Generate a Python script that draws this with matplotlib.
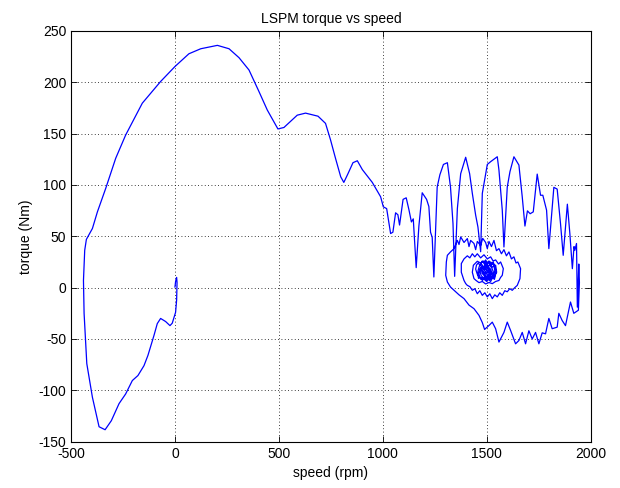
import numpy as np
import matplotlib.pyplot as plt

plt.rcParams.update({'font.size': 10, 'font.family': ['Liberation Sans', 'DejaVu Sans'],
                     'axes.unicode_minus': False})

# rotor speed (rpm) along the run-up trajectory
speed = [0, 3, 8, 10, 9, 8, 3, -13, -24, -45, -69, -85, -101, -130, -149,
         -178, -205, -237, -269, -306, -336, -365, -397, -424, -437, -440,
         -434, -426, -397, -373, -333, -285, -237, -157, -69, 0, 67, 124,
         204, 260, 308, 356, 404, 444, 495, 524, 588, 628, 688, 724, 748,
         772, 797, 812, 832, 856, 877, 901, 949, 989, 1002, 1018, 1037, 1048,
         1061, 1072, 1080, 1097, 1112, 1125, 1137, 1146, 1160, 1173, 1189,
         1210, 1221, 1229, 1237, 1245, 1261, 1274, 1291, 1310, 1325, 1337,
         1345, 1358, 1374, 1398, 1417, 1430, 1446, 1457, 1470, 1478, 1494,
         1502, 1518, 1550, 1558, 1574, 1582, 1598, 1611, 1630, 1654, 1670,
         1683, 1695, 1708, 1723, 1742, 1758, 1769, 1787, 1798, 1822, 1838,
         1854, 1867, 1887, 1899, 1911, 1919, 1923, 1931, 1935, 1942, 1945,
         1940, 1918, 1902, 1878, 1862, 1846, 1838, 1814, 1798, 1782, 1766,
         1750, 1734, 1718, 1702, 1686, 1670, 1654, 1638, 1614, 1598, 1582,
         1558, 1542, 1526, 1510, 1489, 1478, 1462, 1438, 1414, 1390, 1366,
         1350, 1325, 1310, 1302, 1305, 1310, 1325,
         1342, 1358, 1366, 1374, 1390, 1406, 1414, 1422, 1438, 1446, 1454,
         1470, 1480, 1494, 1502, 1510, 1522, 1534, 1546, 1558, 1570, 1582,
         1594, 1606, 1618, 1630, 1640, 1649, 1662, 1659, 1646, 1634, 1622,
         1610, 1598, 1586, 1574, 1562, 1550, 1538, 1526, 1514, 1502, 1490,
         1478, 1466, 1454, 1442, 1430, 1418, 1406, 1398, 1390, 1377, 1377,
         1390, 1406, 1418, 1430, 1442, 1454, 1470, 1486, 1502, 1518, 1530,
         1542, 1556, 1566, 1579, 1574, 1566, 1558, 1542, 1526, 1510, 1494,
         1478, 1462, 1448, 1438, 1430, 1435, 1454, 1470, 1486, 1502, 1518,
         1532, 1542, 1547, 1534, 1518, 1502, 1486, 1470, 1454,
         1446, 1450, 1458, 1466, 1478, 1488, 1494, 1502, 1510, 1520, 1530,
         1538, 1544,
         1540, 1536, 1528, 1518, 1508, 1498, 1488, 1478, 1468, 1460, 1456,
         1458, 1464, 1474, 1484, 1496, 1506, 1516, 1526, 1534, 1538, 1535,
         1528, 1518, 1506, 1494, 1482, 1472, 1464, 1462, 1466, 1474, 1484,
         1494, 1504, 1514, 1524, 1530, 1532, 1526, 1516, 1504, 1492, 1480,
         1472, 1468, 1470, 1478, 1488, 1498, 1508, 1518, 1525, 1526, 1520,
         1510, 1498, 1486, 1477, 1474, 1478, 1486, 1496, 1506, 1515, 1520,
         1518, 1510, 1500, 1490, 1482, 1480, 1486, 1495, 1505, 1513, 1515,
         1508, 1498, 1489, 1486, 1492, 1502, 1510, 1509, 1500, 1492, 1494,
         1502, 1505, 1499, 1496, 1500]

# electromagnetic torque (Nm)
torque = [0.6, 6, 10, 5, -5, -12, -24, -34.6, -37, -33, -30, -35, -46.6,
          -66, -76, -85.6, -90.5, -103.5, -113, -129.6, -138.4, -135.5,
          -106.8, -74, -25, 7, 36.4, 47, 57.6, 73.8, 96.7, 126, 148.7, 179.7,
          200.8, 215.4, 227.8, 232.7, 236, 232.7, 224, 212, 191, 173, 154.6,
          156, 168, 170, 167, 160, 144, 126, 108, 102.5, 111, 121.7, 123.6,
          115, 102.5, 88.5, 78.7, 77, 52.7, 54, 72.9, 71, 61, 86, 87.5, 76,
          64, 67, 19.5, 60, 92.4, 86, 79, 54, 49, 10.4, 98, 110, 120, 121.7,
          98, 62.5, 11, 77, 111, 127, 111, 91.8, 70.6, 59, 35, 91.8, 111, 120,
          122.7, 127.5, 114.5, 75.5, 39.6, 98, 113, 127.5, 119.4, 88.5, 60,
          74.8, 72, 73.8, 110.6, 90, 90, 75.5, 38, 97.7, 96, 62.5, 31.5, 81.3,
          52.7, 18.5, 40, 36.4, 43, -19, 23, 5, -22, -25, -14, -37, -32, -25,
          -38.5, -40, -30, -45, -44, -54.7, -43.6, -50, -42, -54.7, -43.6,
          -51.5, -54.7, -41.7, -33.6, -43.6, -53, -40, -33.6, -36.9, -40.7,
          -34, -27, -20.5, -17, -10.7, -7, -4, 0.6, 5.5, 12, 25, 31.5, 34.8,
          38, 46, 42, 49.4, 44, 47.8, 40, 46, 43, 37, 45, 41, 48, 44, 38, 45,
          40, 46, 36, 38, 33, 37, 31, 34.8, 28, 30, 24, 25, 18.5, 8.8, 2.2, 0,
          -2.6, -1, -4, -3, -7.5, -5, -9, -7, -10.7, -6, -9, -5, -7.5, -3,
          -5.9, -1, -2.6, 1, 2.2, 4, 7, 15, 23.4, 28, 31, 29, 33, 30, 33, 29,
          32, 28, 30, 26, 27, 23, 25, 18.5, 12, 10, 7, 6, 3.9, 5, 3.6, 6, 4.9,
          7, 8.8, 15, 21.8, 25.7, 24, 26, 23, 25, 22, 21.8, 15, 10.4, 9, 8.5,
          10, 9.5, 13,
          18, 22, 24, 22, 26, 23, 27, 24, 26, 22, 25, 21, 16,
          11, 8, 10, 6, 8, 6, 9, 7, 10, 9, 13,
          17, 21, 23, 20, 24, 21, 23, 20, 21, 17, 13,
          10, 8, 11, 7, 9, 8, 11, 14, 18, 21, 19,
          22, 20, 22, 19, 16, 12, 10, 8, 11, 9, 10,
          12, 15, 19, 21, 19, 21, 20, 18, 14, 11, 10,
          12, 9, 12, 14, 17, 20, 18, 20, 19, 17, 13,
          11, 12, 10, 12, 14, 17, 19, 18, 19, 16, 13,
          12, 11, 13, 16, 18, 17, 16, 13, 13, 14, 16,
          17, 15, 14, 15, 15]

fig = plt.figure(figsize=(6.2, 4.88), dpi=100)
ax = fig.add_axes([0.1145, 0.095, 0.8385, 0.8415])

ax.plot(speed, torque, color=(0, 0, 1), linewidth=0.9)

ax.set_xlim(-500, 2000)
ax.set_ylim(-150, 250)
ax.set_xticks(np.arange(-500, 2001, 500))
ax.set_yticks(np.arange(-150, 251, 50))
ax.grid(True, color='black', linestyle=(0, (1, 3)), linewidth=0.6)
ax.tick_params(direction='in', top=True, right=True, length=4, width=0.6)
for s in ax.spines.values():
    s.set_linewidth(0.8)

ax.set_title('LSPM torque vs speed', fontsize=10)
ax.set_xlabel('speed (rpm)')
ax.set_ylabel('torque (Nm)')

fig.savefig('out.png', dpi=100)
